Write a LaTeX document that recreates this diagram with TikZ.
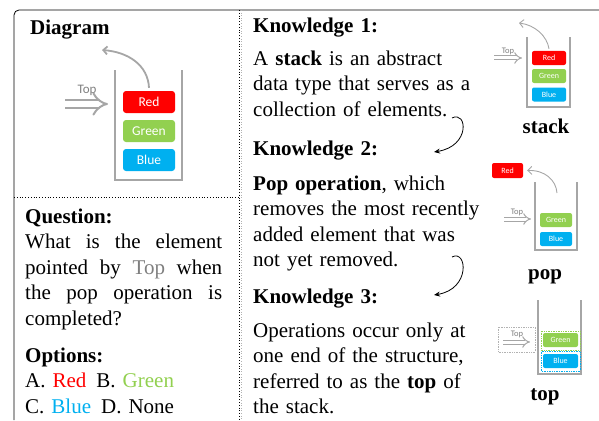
\documentclass[tikz,border=0pt]{standalone}
\usepackage{fontspec}
\setmainfont{Liberation Serif}
\newfontfamily\cali{Carlito}
\usetikzlibrary{arrows.meta}

\definecolor{stkred}{HTML}{FF0000}
\definecolor{stkgreen}{HTML}{92D050}
\definecolor{stkblue}{HTML}{00B0F0}
\definecolor{wallgray}{HTML}{A6A6A6}
\definecolor{topgray}{HTML}{7F7F7F}

\begin{document}
\begin{tikzpicture}[x=1pt, y=-1pt,
    txt/.style={anchor=base west, inner sep=0pt, text width=#1, align=left,
        font=\fontsize{21}{25.6}\selectfont},
    txt/.default=235pt,
    lbl/.style={anchor=base, inner sep=0pt, font=\fontsize{21}{25}\selectfont\bfseries},
    wall/.style={wallgray, line width=#1},
    bigitem/.style={rounded corners=3pt, minimum width=52pt, minimum height=22pt,
        inner sep=0pt, text=white, font=\cali\fontsize{13.5}{14}\selectfont},
    smallitem/.style={rounded corners=2pt, minimum width=#1, minimum height=14pt,
        inner sep=0pt, text=white, font=\cali\fontsize{8}{9}\selectfont},
    smallitem/.default=34pt,
    toplbl/.style={anchor=base, inner sep=0pt, text=topgray, font=\cali\fontsize{#1}{#1}\selectfont},
    pointer/.style={wallgray, line width=#1, double=white, -{Implies}},
    popcurve/.style={wallgray, line width=#1, -{Straight Barb[length=4pt, width=8pt]}},
    link/.style={black, line width=0.8pt, -{Stealth[length=6pt, width=5pt]}}
]
    \useasboundingbox (0,0) rectangle (599,420);

    % Draw the frame
    \draw[line width=0.8pt, rounded corners=5pt] (14,420) -- (14,10) -- (599,10);
    \draw[dotted, line width=0.8pt] (239.5,10) -- (239.5,420);
    \draw[dotted, line width=0.6pt, gray!60] (241.5,10) -- (241.5,420);
    \draw[dotted, line width=0.8pt] (14,197) -- (239.5,197);

    % Diagram panel
    \node[txt] (diagram) at (30,35) {\textbf{Diagram}};
    \draw[wall=2.5pt] (115,70) -- (115,180) -- (182,180) -- (182,70);
    \node[bigitem, fill=stkred] (red) at (149,102) {Red};
    \node[bigitem, fill=stkgreen] (green) at (149,131) {Green};
    \node[bigitem, fill=stkblue] (blue) at (149,160) {Blue};
    \node[toplbl=13] (top) at (87,93) {Top};
    \coordinate (topstart) at (65,104);
    \coordinate (topend) at (108,104);
    \draw[pointer=2pt, double distance=6pt] (topstart) -- (topend);
    \coordinate (popto) at (102,50);
    \draw[popcurve=1.8pt] ([yshift=3pt]red.north) .. controls (148,65) and (128,52) .. (popto);

    % Question and options
    \node[txt=200pt] (question) at (25,223) {\textbf{Question:}\\
        \makebox[197pt]{What\hfill is\hfill the\hfill element}\\
        \makebox[197pt]{pointed\hfill by\hfill \textcolor{topgray}{Top}\hfill when}\\
        \makebox[197pt]{the\hfill pop\hfill operation\hfill is}\\
        completed?};
    \node[txt=210pt] (options) at (25,362) {\textbf{Options:}\\
        A. \textcolor{stkred}{Red}\hspace{3pt} B. \textcolor{stkgreen}{Green}\\
        C. \textcolor{stkblue}{Blue}\hspace{3pt} D. None};

    % Knowledge texts
    \node[txt] (know1) at (253,33) {\textbf{Knowledge 1:}};
    \node[txt] (text1) at (253,65) {A \textbf{stack} is an abstract\\
        data type that serves as a\\ collection of elements.};
    \node[txt] (know2) at (253,155) {\textbf{Knowledge 2:}};
    \node[txt] (text2) at (253,190) {\textbf{Pop operation}, which\\
        removes the most recently\\ added element that was\\ not yet removed.};
    \node[txt] (know3) at (253,303) {\textbf{Knowledge 3:}};
    \node[txt] (text3) at (253,337) {Operations occur only at\\
        one end of the structure,\\ referred to as the \textbf{top} of\\ the stack.};

    % Links between knowledge
    \coordinate (out1) at (452,118);
    \coordinate (in2) at (434,152);
    \draw[link] (out1) .. controls (467,110) and (471,146) .. (in2);
    \coordinate (out2) at (452,257);
    \coordinate (in3) at (434,295);
    \draw[link] (out2) .. controls (467,249) and (471,289) .. (in3);

    % Small stack: stack
    \draw[wall=1.3pt] (527,37) -- (527,107) -- (570,107) -- (570,37);
    \node[smallitem, fill=stkred] (red1) at (549,58) {Red};
    \node[smallitem, fill=stkgreen] (green1) at (549,76) {Green};
    \node[smallitem, fill=stkblue] (blue1) at (549,94.5) {Blue};
    \node[toplbl=8.5] (top1) at (508,53) {Top};
    \coordinate (top1start) at (494,58);
    \coordinate (top1end) at (522,58);
    \draw[pointer=1pt, double distance=3pt] (top1start) -- (top1end);
    \coordinate (pop1to) at (519,23);
    \draw[popcurve=0.9pt] ([yshift=2pt]red1.north) .. controls (547,36) and (535,25) .. (pop1to);
    \node[lbl] (stacklbl) at (546,133) {stack};

    % Small stack: pop
    \draw[wall=1.3pt] (535,182) -- (535,250) -- (577,250) -- (577,182);
    \node[smallitem=32pt, fill=stkgreen] (green2) at (556,220) {Green};
    \node[smallitem=32pt, fill=stkblue] (blue2) at (556,239) {Blue};
    \node[smallitem=31pt, minimum height=15pt, fill=stkred] (red2) at (507.5,170.5) {Red};
    \node[toplbl=8.5] (top2) at (517,214) {Top};
    \coordinate (top2start) at (504,219);
    \coordinate (top2end) at (531,219);
    \draw[pointer=1pt, double distance=3pt] (top2start) -- (top2end);
    \coordinate (pop2from) at (557,193);
    \draw[popcurve=0.9pt] (pop2from) .. controls (556,180) and (545,170) .. ([xshift=4pt]red2.east);
    \node[lbl] (poplbl) at (545,279) {pop};

    % Small stack: top
    \draw[wall=1.3pt] (538,300) -- (538,374) -- (581,374) -- (581,300);
    \node[smallitem=35pt, fill=stkgreen] (green3) at (560.5,340) {Green};
    \node[smallitem=35pt, fill=stkblue] (blue3) at (560.5,361) {Blue};
    \draw[stkgreen, densely dotted, line width=0.7pt] (541,331) rectangle (580,350);
    \draw[stkblue, densely dotted, line width=0.7pt] (541,351.5) rectangle (580,371);
    \draw[gray!60, densely dotted, line width=0.7pt] (498,327) rectangle (535,352);
    \node[toplbl=8.5] (top3) at (517,336) {Top};
    \coordinate (top3start) at (503,342);
    \coordinate (top3end) at (530,342);
    \draw[pointer=1pt, double distance=3pt] (top3start) -- (top3end);
    \node[lbl] (toplbl) at (545,400) {top};
\end{tikzpicture}
\end{document}
